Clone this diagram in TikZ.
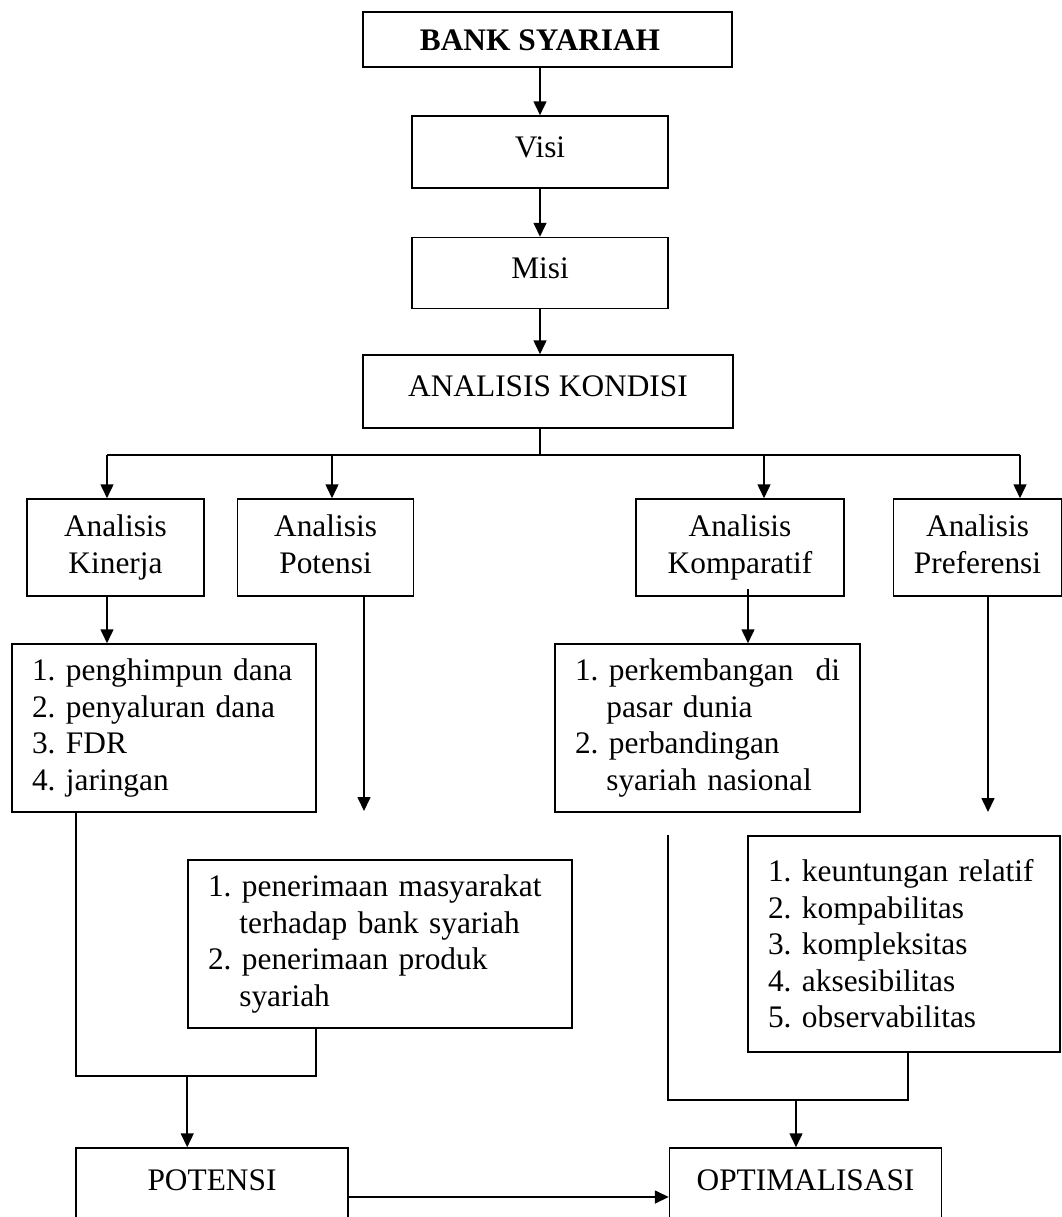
\documentclass[tikz,border=0pt]{standalone}
\usepackage{fontspec}
\setmainfont{Liberation Serif}
\usetikzlibrary{
	arrows.meta,
	positioning
}
\newlength{\pxu}
\setlength{\pxu}{0.025cm}

\begin{document}
\begin{tikzpicture}[
		x=0.025cm, y=-0.025cm,
		font=\fontsize{22.3pt}{26pt}\selectfont\frenchspacing,
		box/.style={draw, line width=1.1pt, inner sep=0pt, align=center},
		list/.style={draw, line width=1.1pt, inner xsep=20\pxu, inner ysep=0pt, align=left},
		link/.style={line width=1.1pt},
		arrow/.style={-{Triangle[length=9.9pt, width=9.2pt]}, line width=1.1pt}
		]
		\useasboundingbox (0,0) rectangle (1062,1217);
		\clip (0,0) rectangle (1062,1217);
		
		% top chain
		\node[box, minimum width=369\pxu, text height=38\pxu, text depth=17\pxu] (bank) at (547.5,39.5) {\hspace*{-15\pxu}\textbf{BANK SYARIAH}};
		\node[box, minimum width=256\pxu, text height=41\pxu, text depth=31\pxu] (visi) at (540,152) {Visi};
		\node[box, minimum width=256\pxu, text height=41\pxu, text depth=30\pxu, below=48\pxu of visi] (misi) {Misi};
		\node[box, minimum width=370\pxu, text height=41\pxu, text depth=32\pxu] (kondisi) at (548,391.5) {ANALISIS KONDISI};
		
		% analisis
		\node[box, minimum width=177\pxu, minimum height=97\pxu] (kinerja) at (115.5,547.5) {Analisis\strut\\Kinerja\strut};
		\node[box, minimum width=176\pxu, minimum height=97\pxu, right=32\pxu of kinerja] (potensi) {Analisis\strut\\Potensi\strut};
		\node[box, minimum width=208\pxu, minimum height=97\pxu] (komparatif) at (740,547.5) {Analisis\strut\\Komparatif\strut};
		\node[box, minimum width=168\pxu, minimum height=97\pxu, right=48\pxu of komparatif] (preferensi) {Analisis\strut\\Preferensi\strut};
		
		% rincian
		\node[list, text width=264\pxu, minimum height=168\pxu] (kinlist) at (164,728) {
			1. penghimpun dana\\
			2. penyaluran dana\\
			3. FDR\\
			4. jaringan
		};
		\node[list, text width=265\pxu, minimum height=168\pxu] (komplist) at (707.5,728) {
			1. perkembangan\hfill di\\
			\hspace*{1em}pasar dunia\\
			2. perbandingan\\
			\hspace*{1em}syariah nasional
		};
		\node[list, text width=344\pxu, minimum height=168\pxu] (potlist) at (380,944) {
			1. penerimaan masyarakat\\
			\hspace*{1em}terhadap bank syariah\\
			2. penerimaan produk\\
			\hspace*{1em}syariah
		};
		\node[list, text width=272\pxu, minimum height=216\pxu] (preflist) at (904,944) {
			1. keuntungan relatif\\
			2. kompabilitas\\
			3. kompleksitas\\
			4. aksesibilitas\\
			5. observabilitas
		};
		
		% hasil
		\node[box, minimum width=272\pxu, text height=42\pxu, text depth=56\pxu] (potbox) at (212,1197) {POTENSI};
		\node[box, minimum width=272\pxu, text height=42\pxu, text depth=56\pxu, right=320\pxu of potbox] (optbox) {OPTIMALISASI};
		
		\coordinate (hub) at (540,455);
		\coordinate (k1) at (107,455);
		\coordinate (k2) at (332,455);
		\coordinate (k3) at (764,455);
		\coordinate (k4) at (1020,455);
		\coordinate (pend) at (364,811);
		\coordinate (rend) at (988,812);
		\coordinate (jl) at (76,1076);
		\coordinate (jr) at (316,1076);
		\coordinate (ml) at (668,1100);
		\coordinate (mr) at (908,1100);
		\coordinate (mdown) at (796,1100);
		
		\draw[arrow] (bank.south -| visi) -- (visi);
		\draw[arrow] (visi) -- (misi);
		\draw[arrow] (misi) -- (kondisi.north -| misi);
		\draw[link] (kondisi.south -| hub) -- (hub);
		\draw[link] (k1) -- (k4);
		\draw[arrow] (k1) -- (k1 |- kinerja.north);
		\draw[arrow] (k2) -- (k2 |- potensi.north);
		\draw[arrow] (k3) -- (k3 |- komparatif.north);
		\draw[arrow] (k4) -- (k4 |- preferensi.north);
		
		\draw[arrow] (kinerja.south -| k1) -- (kinlist.north -| k1);
		\draw[arrow] ([xshift=8\pxu, yshift=8\pxu]komparatif.south) -- ([xshift=8\pxu]komparatif.south |- komplist.north);
		\draw[arrow] (potensi.south -| pend) -- (pend);
		\draw[arrow] (preferensi.south -| rend) -- (rend);
		
		\draw[link] (kinlist.south -| jl) -- (jl) -- (jr) -- (potlist.south -| jr);
		\draw[arrow] (jl -| potlist.west) -- (potbox.north -| potlist.west);
		\draw[link] (preflist.north -| ml) -- (ml) -- (mr) -- (preflist.south -| mr);
		\draw[arrow] (mdown) -- (mdown |- optbox.north);
		\draw[arrow] (potbox) -- (optbox);
		
	\end{tikzpicture}
\end{document}
